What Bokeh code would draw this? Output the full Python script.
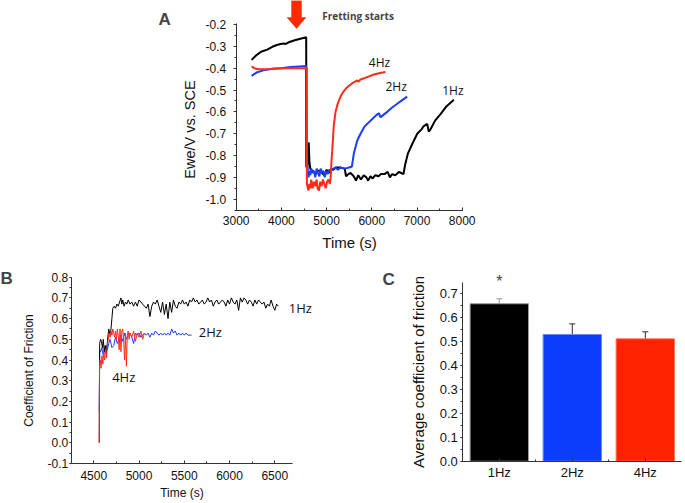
import math
from bokeh.plotting import figure
from bokeh.layouts import column, row
from bokeh.models import (Label, PolyAnnotation, SingleIntervalTicker, NumeralTickFormatter,
                          FixedTicker, Whisker, ColumnDataSource, Range1d, TeeHead)
from bokeh.embed import file_html
from bokeh.resources import INLINE

# ---------------- Panel A data: potential vs time ----------------
a_t_1hz = [3340, 3450, 3550, 3686, 3800, 3900, 3981, 4055, 4100, 4180, 4276, 4400, 4549, 4552,
           4575, 4590, 4605, 4620, 4640, 4660, 4700, 4750, 4800, 4850, 4900, 4950, 5000, 5050,
           5100, 5150, 5200, 5300, 5400, 5430, 5480, 5530, 5600, 5650, 5700, 5760, 5820, 5880,
           5920, 5970, 6020, 6080, 6150, 6200, 6280, 6350, 6400, 6450, 6520, 6600, 6650, 6700,
           6740, 6800, 6900, 7005, 7100, 7150, 7226, 7260, 7300, 7400, 7521, 7650, 7816]
a_e_1hz = [-0.362, -0.340, -0.325, -0.315, -0.302, -0.294, -0.289, -0.287, -0.289, -0.280, -0.273,
           -0.266, -0.258, -0.850, -0.860, -0.780, -0.740, -0.830, -0.860, -0.870, -0.870, -0.885,
           -0.870, -0.870, -0.880, -0.890, -0.865, -0.880, -0.860, -0.865, -0.855, -0.855, -0.860,
           -0.895, -0.885, -0.880, -0.895, -0.915, -0.890, -0.910, -0.890, -0.900, -0.915, -0.895,
           -0.905, -0.890, -0.895, -0.885, -0.885, -0.875, -0.900, -0.885, -0.890, -0.875, -0.880,
           -0.885, -0.840, -0.790, -0.745, -0.700, -0.680, -0.665, -0.655, -0.690, -0.680, -0.640,
           -0.610, -0.575, -0.545]

a_t_2hz = [3340, 3450, 3600, 3800, 4000, 4200, 4400, 4550, 4555, 4580, 4600, 4620, 4640, 4660,
           4690, 4720, 4750, 4780, 4810, 4840, 4870, 4900, 4930, 4960, 4990, 5020, 5060, 5100,
           5150, 5200, 5250, 5300, 5400, 5500, 5560, 5603, 5680, 5751, 5830, 5898, 6000, 6100,
           6157, 6193, 6250, 6341, 6450, 6562, 6680, 6783]
a_e_2hz = [-0.435, -0.420, -0.410, -0.403, -0.400, -0.395, -0.392, -0.390, -0.830, -0.860, -0.900,
           -0.870, -0.890, -0.860, -0.880, -0.870, -0.900, -0.860, -0.880, -0.895, -0.860, -0.880,
           -0.870, -0.900, -0.870, -0.885, -0.865, -0.870, -0.860, -0.855, -0.865, -0.855, -0.860,
           -0.855, -0.850, -0.790, -0.730, -0.700, -0.670, -0.655, -0.635, -0.615, -0.606, -0.625,
           -0.615, -0.600, -0.580, -0.563, -0.545, -0.530]

a_t_4hz = [3340, 3400, 3500, 3700, 3900, 4100, 4300, 4560, 4565, 4585, 4600, 4620, 4640, 4660,
           4690, 4720, 4750, 4780, 4800, 4830, 4860, 4890, 4920, 4950, 4980, 5010, 5040, 5070,
           5090, 5110, 5124, 5160, 5198, 5250, 5308, 5380, 5456, 5560, 5677, 5700, 5750, 5898,
           6046, 6180, 6304]
a_e_4hz = [-0.392, -0.400, -0.405, -0.405, -0.402, -0.400, -0.400, -0.400, -0.930, -0.950, -0.960,
           -0.930, -0.950, -0.910, -0.950, -0.920, -0.940, -0.910, -0.950, -0.960, -0.920, -0.940,
           -0.910, -0.930, -0.950, -0.920, -0.910, -0.930, -0.900, -0.820, -0.780, -0.660, -0.600,
           -0.560, -0.530, -0.505, -0.487, -0.470, -0.456, -0.462, -0.452, -0.441, -0.429, -0.422,
           -0.418]

# ---------------- Panel B data: coefficient of friction vs time ----------------
b_t_1hz = [4560, 4565, 4575, 4585, 4595, 4605, 4615, 4625, 4640, 4650, 4665, 4680, 4690, 4700,
           4710, 4725, 4740, 4755, 4770, 4785, 4800, 4810, 4820, 4835, 4850, 4865, 4880, 4900,
           4920, 4940, 4960, 4980, 5000, 5020, 5040, 5060, 5080, 5100, 5120, 5140, 5160, 5180,
           5200, 5220, 5240, 5260, 5280, 5300, 5320, 5340, 5360, 5380, 5400, 5420, 5440, 5460,
           5480, 5500, 5520, 5540, 5560, 5580, 5600, 5620, 5640, 5660, 5680, 5700, 5720, 5740,
           5760, 5780, 5800, 5820, 5840, 5860, 5880, 5900, 5920, 5940, 5960, 5980, 6000, 6020,
           6040, 6060, 6080, 6100, 6120, 6140, 6160, 6180, 6200, 6220, 6240, 6260, 6280, 6300,
           6320, 6340, 6360, 6380, 6400, 6420, 6440, 6460, 6480, 6500, 6520, 6540]
b_f_1hz = [0.00, 0.48, 0.50, 0.49, 0.46, 0.50, 0.44, 0.47, 0.43, 0.49, 0.55, 0.52, 0.55, 0.60,
           0.65, 0.66, 0.65, 0.67, 0.66, 0.68, 0.70, 0.67, 0.69, 0.66, 0.68, 0.67, 0.69, 0.67,
           0.68, 0.66, 0.68, 0.66, 0.69, 0.68, 0.67, 0.66, 0.65, 0.67, 0.61, 0.66, 0.68, 0.67,
           0.69, 0.66, 0.63, 0.68, 0.62, 0.67, 0.60, 0.68, 0.63, 0.69, 0.66, 0.65, 0.68, 0.67,
           0.69, 0.67, 0.68, 0.66, 0.69, 0.68, 0.70, 0.68, 0.69, 0.67, 0.68, 0.69, 0.67, 0.68,
           0.70, 0.68, 0.69, 0.66, 0.68, 0.69, 0.67, 0.68, 0.69, 0.68, 0.66, 0.69, 0.67, 0.70,
           0.68, 0.67, 0.69, 0.64, 0.70, 0.68, 0.70, 0.69, 0.67, 0.69, 0.68, 0.66, 0.69, 0.67,
           0.69, 0.68, 0.67, 0.68, 0.65, 0.67, 0.66, 0.69, 0.66, 0.64, 0.67, 0.66]

b_t_2hz = [4560, 4565, 4575, 4590, 4605, 4620, 4635, 4650, 4665, 4680, 4700, 4720, 4740, 4760,
           4780, 4800, 4820, 4840, 4860, 4880, 4900, 4920, 4940, 4960, 4980, 5000, 5020, 5040,
           5060, 5080, 5100, 5120, 5140, 5160, 5180, 5200, 5220, 5240, 5260, 5280, 5300, 5320,
           5340, 5360, 5380, 5400, 5420, 5440, 5460, 5480, 5500, 5520, 5540, 5560, 5580]
b_f_2hz = [0.15, 0.45, 0.44, 0.46, 0.42, 0.45, 0.47, 0.45, 0.48, 0.50, 0.46, 0.47, 0.51, 0.48,
           0.50, 0.52, 0.49, 0.53, 0.50, 0.52, 0.53, 0.51, 0.48, 0.53, 0.52, 0.53, 0.51, 0.52,
           0.53, 0.52, 0.53, 0.51, 0.53, 0.52, 0.54, 0.53, 0.52, 0.53, 0.52, 0.53, 0.52, 0.53,
           0.52, 0.55, 0.53, 0.54, 0.52, 0.53, 0.52, 0.53, 0.52, 0.53, 0.52, 0.52, 0.52]

b_t_4hz = [4560, 4563, 4570, 4580, 4590, 4600, 4610, 4620, 4630, 4640, 4650, 4660, 4670, 4680,
           4690, 4700, 4710, 4720, 4730, 4740, 4750, 4760, 4770, 4780, 4790, 4800, 4810, 4820,
           4830, 4840, 4850, 4860, 4870, 4880, 4890, 4900, 4920, 4940, 4960, 4980, 5000, 5020,
           5040, 5060]
b_f_4hz = [0.00, 0.38, 0.40, 0.36, 0.42, 0.38, 0.44, 0.40, 0.45, 0.41, 0.47, 0.50, 0.53, 0.51,
           0.54, 0.52, 0.55, 0.53, 0.51, 0.54, 0.50, 0.55, 0.52, 0.45, 0.55, 0.44, 0.54, 0.55,
           0.50, 0.40, 0.53, 0.37, 0.52, 0.54, 0.50, 0.53, 0.51, 0.54, 0.49, 0.53, 0.51, 0.54,
           0.50, 0.53]

# ---------------- Panel C data: average coefficient of friction ----------------
c_cats = ["1Hz", "2Hz", "4Hz"]
c_mean = [0.656, 0.528, 0.510]
c_lo = [0.635, 0.479, 0.476]
c_hi = [0.677, 0.572, 0.539]

BLACK = "#000000"
BLUE = "#1a3cff"
RED = "#ff2a1a"
AX = "Liberation Sans"
OS = "Open Sans"


def x_range_from(px_anchor, val_anchor, px_per_unit, width):
    return Range1d(val_anchor - px_anchor / px_per_unit,
                   val_anchor + (width - px_anchor) / px_per_unit)


def y_range_from(px_anchor, val_anchor, px_per_unit, height):
    return Range1d(val_anchor - (height - px_anchor) / px_per_unit,
                   val_anchor + px_anchor / px_per_unit)


def make_fig(w, h, xr, yr):
    p = figure(width=w, height=h, output_backend="svg", toolbar_location=None, title=None,
               x_range=xr, y_range=yr, min_border=0)
    p.outline_line_color = None
    p.xgrid.grid_line_color = None
    p.ygrid.grid_line_color = None
    p.background_fill_color = "white"
    p.border_fill_color = "white"
    for ax in p.xaxis + p.yaxis:
        ax.axis_line_color = "#333333"
        ax.major_tick_line_color = "#333333"
        ax.minor_tick_line_color = "#333333"
        ax.major_label_text_font = AX
        ax.axis_label_text_font = AX
        ax.axis_label_text_font_style = "normal"
        ax.major_label_text_color = "#111111"
        ax.axis_label_text_color = "#111111"
    for ax in p.xaxis:
        ax.major_tick_in = 3
        ax.major_tick_out = 0
        ax.minor_tick_in = 2
        ax.minor_tick_out = 0
    for ax in p.yaxis:
        ax.major_tick_in = 0
        ax.major_tick_out = 3
        ax.minor_tick_in = 0
        ax.minor_tick_out = 2
    return p


# ================= Panel A =================
WA, HA = 684, 262
pA = make_fig(WA, HA, x_range_from(235.7, 3000, 0.0452, WA), y_range_from(24, -0.2, 218.4, HA))
pA.line(a_t_1hz, a_e_1hz, line_color=BLACK, line_width=2)
pA.line(a_t_2hz, a_e_2hz, line_color=BLUE, line_width=2)
pA.line(a_t_4hz, a_e_4hz, line_color=RED, line_width=2)
pA.xaxis.fixed_location = -1.05
pA.yaxis.fixed_location = 3000
pA.xaxis.bounds = (3000, 8000)
pA.yaxis.bounds = (-1.05, -0.195)
pA.xaxis.ticker = SingleIntervalTicker(interval=1000, num_minor_ticks=2)
pA.yaxis.ticker = SingleIntervalTicker(interval=0.1, num_minor_ticks=2)
pA.xaxis.formatter = NumeralTickFormatter(format="0")
pA.yaxis.formatter = NumeralTickFormatter(format="0.0")
pA.xaxis.major_label_text_font_size = "12px"
pA.yaxis.major_label_text_font_size = "12px"
pA.xaxis.axis_label = "Time (s)"
pA.xaxis.axis_label_text_font_size = "15px"
pA.yaxis.major_label_standoff = 7
pA.xaxis.major_label_standoff = 6
pA.xaxis.axis_label_standoff = 5
pA.add_layout(Label(x=1973, y=-0.681, text="Ewe/V vs. SCE", angle=math.pi / 2,
                    text_font=AX, text_font_size="14.5px", text_align="center",
                    text_baseline="middle", text_color="#111111"))

pA.add_layout(Label(x=1281, y=-0.177, text="A", text_font=AX, text_font_style="bold",
                    text_font_size="17px", text_baseline="alphabetic"))
pA.add_layout(Label(x=4903, y=-0.159, text="Fretting starts", text_font=OS,
                    text_font_style="bold", text_font_size="10px", text_baseline="alphabetic"))
pA.add_layout(PolyAnnotation(xs=[4223, 4445, 4445, 4544, 4334, 4124, 4223],
                             ys=[-0.09, -0.09, -0.168, -0.168, -0.2183, -0.168, -0.168],
                             fill_color="#ff2a00", fill_alpha=1.0, line_color="#b01000",
                             line_width=1))
for txt, x, y in [("4Hz", 5934, -0.3726), ("2Hz", 6303, -0.484), ("1Hz", 7557, -0.502)]:
    pA.add_layout(Label(x=x, y=y, text=txt, text_font=OS, text_font_size="12px",
                        text_baseline="alphabetic", text_color="#111111"))

# ================= Panel B =================
WB, HB = 378, 240
pB = make_fig(WB, HB, x_range_from(93.3, 4500, 0.0905, WB), y_range_from(14.7, 0.8, 207, HB))
pB.line(b_t_2hz, b_f_2hz, line_color=BLUE, line_width=1)
pB.line(b_t_1hz, b_f_1hz, line_color=BLACK, line_width=1)
pB.line(b_t_4hz, b_f_4hz, line_color=RED, line_width=1)
pB.xaxis.fixed_location = -0.1
pB.yaxis.fixed_location = 4250
pB.xaxis.bounds = (4250, 6700)
pB.yaxis.bounds = (-0.1, 0.8)
pB.xaxis.ticker = SingleIntervalTicker(interval=500, num_minor_ticks=2)
pB.yaxis.ticker = SingleIntervalTicker(interval=0.1, num_minor_ticks=2)
pB.xaxis.formatter = NumeralTickFormatter(format="0")
pB.yaxis.formatter = NumeralTickFormatter(format="0.0")
pB.xaxis.major_label_text_font_size = "12px"
pB.yaxis.major_label_text_font_size = "12px"
pB.xaxis.axis_label = "Time (s)"
pB.yaxis.axis_label = "Coefficient of Friction"
pB.xaxis.axis_label_text_font_size = "12px"
pB.yaxis.axis_label_text_font_size = "12px"
pB.yaxis.major_tick_out = 2
pB.yaxis.major_label_standoff = 1
pB.yaxis.axis_label_standoff = 9
pB.xaxis.major_label_standoff = 7
pB.xaxis.axis_label_standoff = 3
pB.add_layout(Label(x=3469, y=0.794, text="B", text_font=AX, text_font_style="bold",
                    text_font_size="17px", text_baseline="alphabetic"))
for txt, x, y in [("1Hz", 6655, 0.6496), ("2Hz", 5660, 0.5366), ("4Hz", 4703, 0.3196)]:
    pB.add_layout(Label(x=x, y=y, text=txt, text_font=OS, text_font_size="13px",
                        text_baseline="alphabetic", text_color="#111111"))

# ================= Panel C =================
WC, HC = 306, 240
c_x = [i + 0.5 for i in range(len(c_cats))]
pC = make_fig(WC, HC, x_range_from(84.3, 0, 73, WC), y_range_from(198.7, 0, 240, HC))
srcC = ColumnDataSource(dict(x=c_x, mean=c_mean, lo=c_lo, hi=c_hi,
                             color=[BLACK, "#0d3dfc", "#ff2200"],
                             edge=["#999999", "#6f8aff", "#ff7a66"]))
pC.vbar(x="x", top="mean", width=0.8, fill_color="color", line_color="edge", line_width=1,
        source=srcC)
src1 = ColumnDataSource(dict(x=c_x[:1], lo=c_lo[:1], hi=c_hi[:1]))
src2 = ColumnDataSource(dict(x=c_x[1:], lo=c_lo[1:], hi=c_hi[1:]))
pC.add_layout(Whisker(source=src1, base="x", upper="hi", lower="lo", line_color="#9a9a9a",
                      upper_head=TeeHead(size=6, line_color="#9a9a9a"),
                      lower_head=TeeHead(size=6, line_color="#9a9a9a")))
pC.add_layout(Whisker(source=src2, base="x", upper="hi", lower="lo", line_color="#3a2222",
                      upper_head=TeeHead(size=6, line_color="#3a2222"),
                      lower_head=TeeHead(size=6, line_color="#3a2222")))
pC.xaxis.fixed_location = 0
pC.yaxis.fixed_location = 0
pC.xaxis.bounds = (0, len(c_cats))
pC.yaxis.bounds = (0, 0.745)
pC.xaxis.ticker = FixedTicker(ticks=c_x, minor_ticks=list(range(1, len(c_cats))))
pC.xaxis.major_label_overrides = {x: c for x, c in zip(c_x, c_cats)}
pC.yaxis.ticker = SingleIntervalTicker(interval=0.1, num_minor_ticks=2)
pC.yaxis.formatter = NumeralTickFormatter(format="0.0")
pC.xaxis.major_label_text_font_size = "13px"
pC.yaxis.major_label_text_font_size = "13px"
pC.yaxis.axis_label = "Average coefficient of friction"
pC.yaxis.axis_label_text_font_size = "15px"
pC.yaxis.major_tick_out = 2
pC.yaxis.major_label_standoff = 3
pC.yaxis.axis_label_standoff = 9
pC.xaxis.major_label_standoff = 4
pC.add_layout(Label(x=-1.1, y=0.757, text="C", text_font=AX, text_font_style="bold",
                    text_font_size="17px", text_baseline="alphabetic"))
pC.add_layout(Label(x=c_x[0], y=0.748, text="*", text_font=AX, text_font_size="16px",
                    text_align="center", text_baseline="alphabetic"))

layout = column(pA, row(pB, pC, spacing=0), spacing=0)
open("out.html", "w").write(file_html(layout, INLINE))
